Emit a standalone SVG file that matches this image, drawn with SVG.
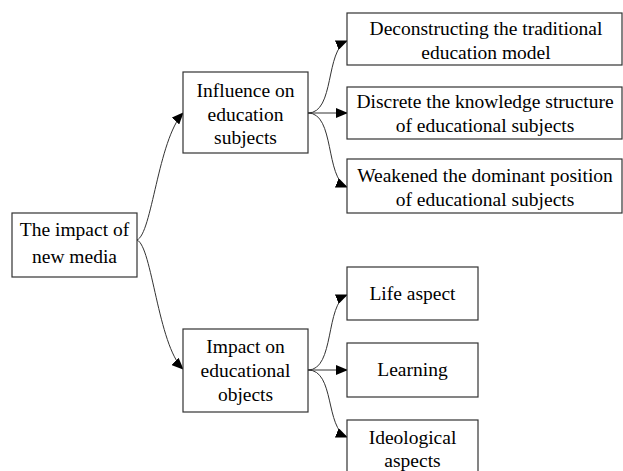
<svg xmlns="http://www.w3.org/2000/svg" width="623" height="471" viewBox="0 0 623 471">
<style>
rect.box{fill:#fff;stroke:#333;stroke-width:1.2}
text{font-family:"Liberation Serif","Times New Roman",serif;font-size:19.5px;fill:#000;text-anchor:middle}
path.c{fill:none;stroke:#333;stroke-width:1;marker-end:url(#ah)}
</style>
<defs>
<marker id="ah" markerWidth="12" markerHeight="10" refX="11" refY="5" orient="auto" markerUnits="userSpaceOnUse">
<path d="M0,0 L12,5 L0,10 Z" fill="#000"/>
</marker>
</defs>
<rect width="623" height="471" fill="#fff"/>
<g id="connectors">
<path class="c" d="M137,240 C152,234 158,140 183,113"/>
<path class="c" d="M137,240 C152,246 158,345 183,369"/>
<path class="c" d="M308,113 C335,113 325,50 347,41"/>
<path class="c" d="M308,113 L347,113"/>
<path class="c" d="M308,113 C335,113 325,178 347,187"/>
<path class="c" d="M308,370 C335,370 325,304 347,295"/>
<path class="c" d="M308,370 L347,370"/>
<path class="c" d="M308,370 C335,370 325,428 347,437"/>
</g>
<g id="root">
<rect class="box" x="12" y="213" width="125" height="64"/>
<text x="74.5" y="236">The impact of</text>
<text x="74.5" y="263">new media</text>
</g>
<g id="influence">
<rect class="box" x="183" y="72" width="125" height="81"/>
<text x="245.5" y="97">Influence on</text>
<text x="245.5" y="121">education</text>
<text x="245.5" y="144">subjects</text>
</g>
<g id="impact">
<rect class="box" x="183" y="329" width="125" height="83"/>
<text x="245.5" y="353">Impact on</text>
<text x="245.5" y="377">educational</text>
<text x="245.5" y="401">objects</text>
</g>
<g id="deconstructing">
<rect class="box" x="347" y="13" width="275" height="52"/>
<text x="486" y="35">Deconstructing the traditional</text>
<text x="486" y="59">education model</text>
</g>
<g id="discrete">
<rect class="box" x="347" y="87" width="275" height="52"/>
<text x="485" y="108">Discrete the knowledge structure</text>
<text x="485" y="132">of educational subjects</text>
</g>
<g id="weakened">
<rect class="box" x="347" y="159" width="275" height="54"/>
<text x="485" y="182">Weakened the dominant position</text>
<text x="485" y="206">of educational subjects</text>
</g>
<g id="life">
<rect class="box" x="347" y="267" width="131" height="53"/>
<text x="412.5" y="300">Life aspect</text>
</g>
<g id="learning">
<rect class="box" x="347" y="343" width="131" height="54"/>
<text x="412.5" y="376">Learning</text>
</g>
<g id="ideological">
<rect class="box" x="347" y="420" width="131" height="60"/>
<text x="412.5" y="444">Ideological</text>
<text x="412.5" y="467">aspects</text>
</g>
</svg>
